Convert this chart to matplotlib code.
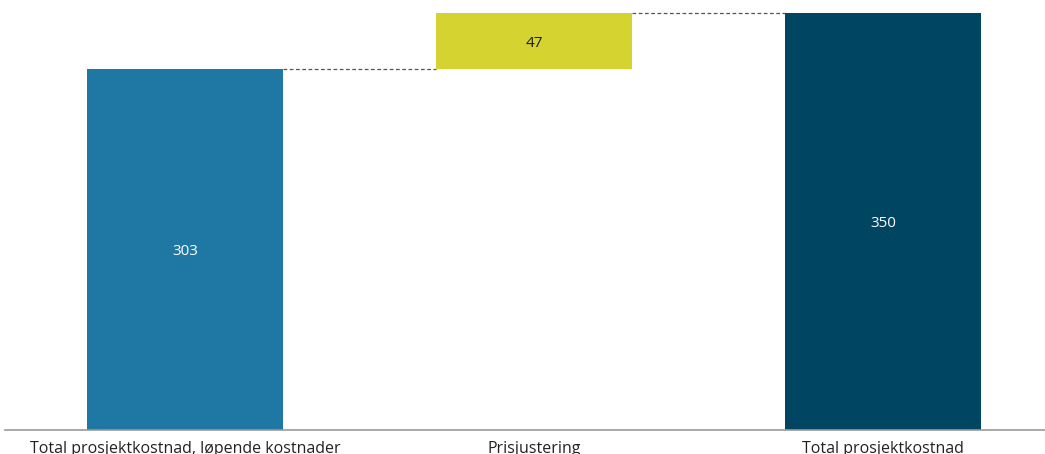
import matplotlib
matplotlib.use("Agg")
import matplotlib.pyplot as plt

categories = ["Total prosjektkostnad, løpende kostnader", "Prisjustering", "Total prosjektkostnad"]
values = [303, 47, 350]
kinds = ["total", "delta", "total"]
colors = ["#1F77A3", "#D5D32F", "#004561"]
label_colors = ["white", "#1a1a1a", "white"]

W, H = 1045, 454
fig = plt.figure(figsize=(W / 100, H / 100), dpi=100)
ax = fig.add_axes([5 / W, 24 / H, 1 - 5 / W, 1 - 24 / H])

plt.rcParams["font.family"] = ["Open Sans", "DejaVu Sans"]

width = 0.56
bottoms = []
running = 0
for v, k in zip(values, kinds):
    if k == "total":
        bottoms.append(0)
        running = v
    else:
        bottoms.append(running)
        running += v

x = list(range(len(categories)))
ax.bar(x, values, width=width, bottom=bottoms, color=colors, zorder=2)

for i, (v, b) in enumerate(zip(values, bottoms)):
    ax.text(i, b + v / 2 - 2, f"{v}", ha="center", va="center",
            color=label_colors[i], fontsize=11, family=["Open Sans", "DejaVu Sans"])

# connectors between consecutive bar tops
for i in range(len(values) - 1):
    level = bottoms[i] + values[i]
    ax.plot([i + width / 2, i + 1 - width / 2], [level, level],
            linestyle=(0, (3, 2)), color="#555555", linewidth=0.9, zorder=1)

ax.set_xlim(-0.516, 2.464)
ax.set_ylim(0, 361)
ax.set_xticks(x)
ax.set_xticklabels(categories, fontsize=11.5, color="#222222",
                   family=["Open Sans", "DejaVu Sans"])
ax.tick_params(axis="x", length=0, pad=8)
ax.set_yticks([])
for s in ["top", "right", "left"]:
    ax.spines[s].set_visible(False)
ax.spines["bottom"].set_color("#999999")
ax.spines["bottom"].set_linewidth(1.2)

fig.savefig("out.png", dpi=100)
